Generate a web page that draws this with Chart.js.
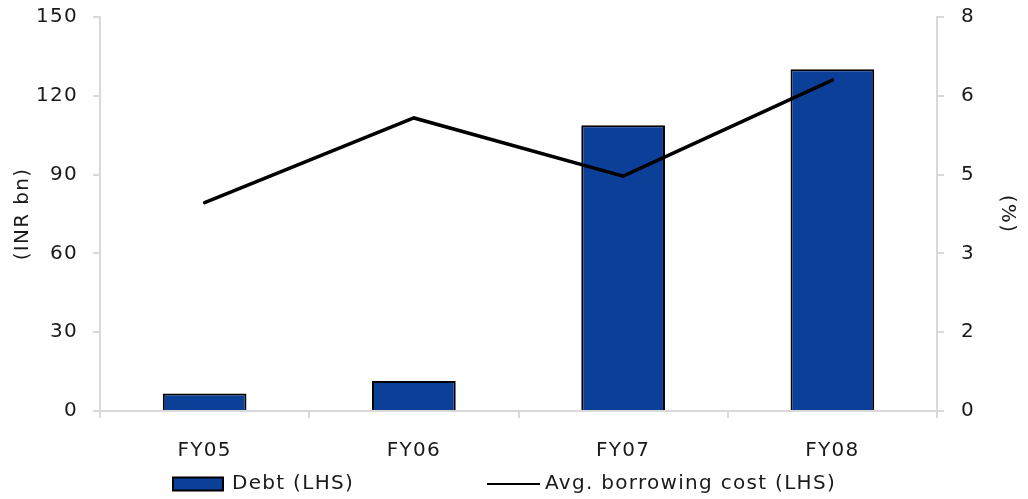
<!DOCTYPE html>
<html>
<head>
<meta charset="utf-8">
<script src="https://cdn.jsdelivr.net/npm/chart.js@4/dist/chart.umd.min.js"></script>
<style>
  html, body { margin: 0; padding: 0; background: #fff; }
  #wrap { width: 1028px; height: 499px; }
</style>
</head>
<body>
<div id="wrap"><canvas id="myChart" width="1028" height="499"></canvas></div>
<script>
var categorias = ["FY05", "FY06", "FY07", "FY08"];
var deuda = [6.7, 11.4, 108.8, 130.1];
var costoPromedio = [4.23, 5.95, 4.77, 6.72];

var ticksIzq = [0, 30, 60, 90, 120, 150];
var ticksDer = [0, 1.6, 3.2, 4.8, 6.4, 8];
var etiquetasDer = ["0", "2", "3", "5", "6", "8"];

var nombreDeuda = "Debt (LHS)";
var nombreCosto = "Avg. borrowing cost (LHS)";

var fuente = "'DejaVu Sans', Verdana, sans-serif";
var tamFuente = 20;
var espaciado = "1.3px";
var colorTexto = "#1a1a1a";
var colorEje = "#d9d9d9";
var azul = "#0c4098";

// texto un poco espaciado, como en el original
var espaciadoTexto = {
  id: "espaciadoTexto",
  beforeUpdate: function (chart) {
    chart.ctx.letterSpacing = espaciado;
  },
  beforeDraw: function (chart) {
    chart.ctx.letterSpacing = espaciado;
  },
};

// leyenda dibujada a mano, con el espacio amplio entre items
var leyendaManual = {
  id: "leyendaManual",
  afterDraw: function (chart) {
    var ctx = chart.ctx;
    var y = 484;
    var x = chart.chartArea.left + 73;
    ctx.save();
    ctx.letterSpacing = espaciado;
    ctx.font = tamFuente + "px " + fuente;
    ctx.textBaseline = "middle";

    ctx.fillStyle = azul;
    ctx.fillRect(x, y - 6.5, 50, 13);
    ctx.strokeStyle = "#000";
    ctx.lineWidth = 2;
    ctx.strokeRect(x, y - 6.5, 50, 13);
    ctx.fillStyle = colorTexto;
    ctx.fillText(nombreDeuda, x + 59, y);

    var x2 = x + 314;
    ctx.strokeStyle = "#000";
    ctx.lineWidth = 2;
    ctx.beginPath();
    ctx.moveTo(x2, y);
    ctx.lineTo(x2 + 53, y);
    ctx.stroke();
    ctx.fillText(nombreCosto, x2 + 58, y);
    ctx.restore();
  },
};

function ejeComun() {
  return {
    border: { display: true, color: colorEje, width: 2 },
    grid: { display: true, drawOnChartArea: false, drawTicks: true, tickLength: 7, color: colorEje, lineWidth: 2 },
  };
}

// ancho fijo del eje y sin el relleno extra arriba/abajo
function fijaEjeY(ancho) {
  return function (scale) {
    scale.width = ancho;
    scale.paddingTop = 0;
    scale.paddingBottom = 0;
  };
}

const ctx = document.getElementById("myChart");

var myChart = new Chart(ctx, {
  type: "bar",
  data: {
    labels: categorias,
    datasets: [
      {
        type: "line",
        label: nombreCosto,
        data: costoPromedio,
        yAxisID: "der",
        borderColor: "#000",
        borderWidth: 3.5,
        borderCapStyle: "round",
        pointRadius: 0,
        tension: 0,
        order: 0,
      },
      {
        label: nombreDeuda,
        data: deuda,
        yAxisID: "izq",
        backgroundColor: azul,
        borderColor: "#000",
        borderWidth: 2,
        barPercentage: 0.8,
        categoryPercentage: 0.5,
        order: 1,
      },
    ],
  },
  options: {
    responsive: false,
    animation: false,
    layout: { padding: { top: 17, bottom: 40, left: 0, right: 0 } },
    plugins: {
      legend: { display: false },
      tooltip: { enabled: false },
    },
    scales: {
      x: Object.assign(ejeComun(), {
        offset: true,
        ticks: { color: colorTexto, font: { family: fuente, size: tamFuente }, padding: 21, maxRotation: 0 },
        afterFit: function (scale) {
          scale.height = 48;
        },
      }),
      izq: Object.assign(ejeComun(), {
        position: "left",
        min: 0,
        max: 150,
        afterBuildTicks: function (scale) {
          scale.ticks = ticksIzq.map(function (v) { return { value: v }; });
        },
        ticks: { color: colorTexto, font: { family: fuente, size: tamFuente }, padding: 15 },
        title: { display: true, text: "(INR bn)", color: colorTexto, font: { family: fuente, size: tamFuente }, padding: { top: 11, bottom: 0 } },
        afterFit: fijaEjeY(100),
      }),
      der: Object.assign(ejeComun(), {
        position: "right",
        min: 0,
        max: 8,
        afterBuildTicks: function (scale) {
          scale.ticks = ticksDer.map(function (v) { return { value: v }; });
        },
        ticks: {
          color: colorTexto,
          font: { family: fuente, size: tamFuente },
          padding: 17,
          callback: function (value, index) {
            return etiquetasDer[index];
          },
        },
        title: { display: true, text: "(%)", color: colorTexto, font: { family: fuente, size: tamFuente }, padding: { top: 9, bottom: 0 } },
        afterFit: fijaEjeY(91),
      }),
    },
  },
  plugins: [espaciadoTexto, leyendaManual],
});
</script>
</body>
</html>
